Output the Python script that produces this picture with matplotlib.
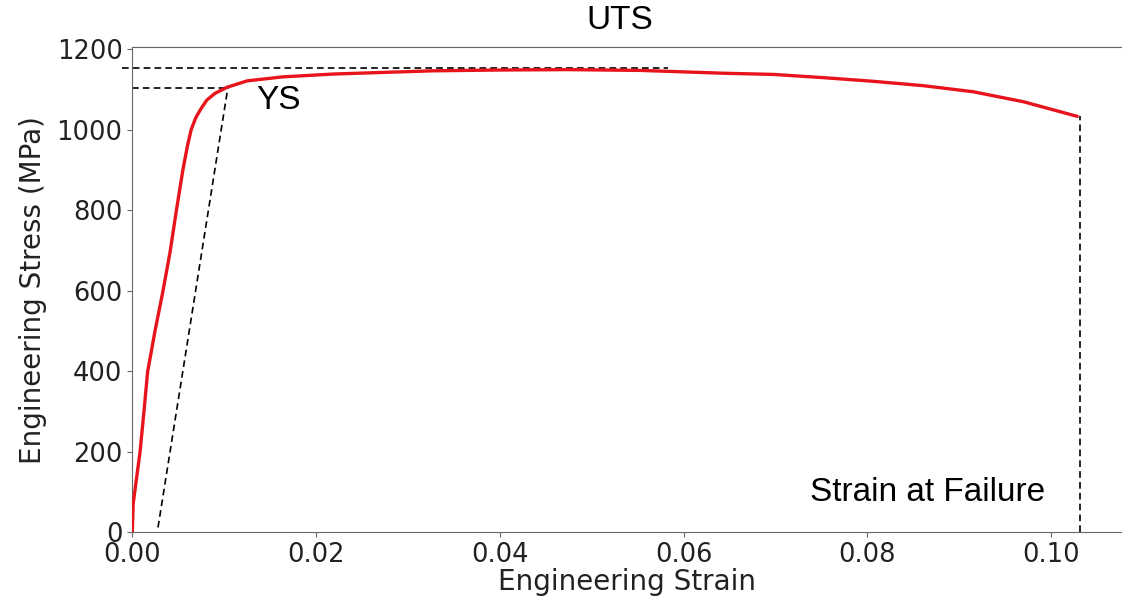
import matplotlib.pyplot as plt
import numpy as np

# stress-strain curve
strain = [0.0, 0.0001, 0.00084, 0.00127, 0.00167, 0.00247, 0.0033, 0.0041, 0.0048,
          0.0055, 0.0060, 0.0064, 0.0069, 0.0074, 0.0081, 0.0090, 0.0103, 0.0125,
          0.0164, 0.0219, 0.0273, 0.0327, 0.0400, 0.0473, 0.0553, 0.0643, 0.0698,
          0.0752, 0.0806, 0.0861, 0.0915, 0.0970, 0.1028]
stress = [0, 72, 199, 300, 399, 500, 595, 695, 800,
          900, 960, 1000, 1030, 1050, 1074, 1091, 1106, 1122,
          1132, 1139, 1143, 1147, 1149, 1150, 1148, 1141, 1138,
          1130, 1121, 1110, 1095, 1070, 1034]

uts = 1154
ys = 1105
ys_strain = 0.0104
offset_strain = 0.0028
offset_stress = 12
failure_strain = 0.1031
failure_stress = 1034

fig = plt.figure(figsize=(11.22, 5.98), dpi=100)
ax = fig.add_axes([0.1179, 0.1099, 0.8821, 0.8107])

ax.plot(strain, stress, color='#e8141c', linewidth=2.4, zorder=3)

dash = (0, (4, 2.5))
ax.plot([-0.0011, 0.0583], [uts, uts], color='black', lw=1.2, linestyle=dash, clip_on=False)
ax.plot([0, ys_strain], [ys, ys], color='black', lw=1.2, linestyle=dash)
ax.plot([offset_strain, ys_strain], [offset_stress, ys], color='black', lw=1.2, linestyle=dash)
ax.plot([failure_strain, failure_strain], [0, failure_stress], color='black', lw=1.2, linestyle=dash)

ax.text(0.0531, 1271, 'UTS', fontsize=24, family='Liberation Sans', ha='center', va='center', clip_on=False)
ax.text(0.0159, 1074, 'YS', fontsize=24, family='Liberation Sans', ha='center', va='center')
ax.text(0.0865, 100, 'Strain at Failure', fontsize=24, family='Liberation Sans', ha='center', va='center')

ax.set_xlim(0, 0.1077)
ax.set_ylim(0, 1205)
ax.set_xticks(np.arange(0, 0.101, 0.02))
ax.set_yticks(np.arange(0, 1201, 200))
ax.set_xticklabels(['0.00', '0.02', '0.04', '0.06', '0.08', '0.10'])

ax.spines['right'].set_visible(False)
for s in ['left', 'bottom', 'top']:
    ax.spines[s].set_color('#666666')
ax.tick_params(colors='#666666', labelcolor='#222222', labelsize=18.5)

ax.set_xlabel('Engineering Strain', fontsize=20, color='#222222', labelpad=0)
ax.set_ylabel('Engineering Stress (MPa)', fontsize=20, color='#222222', labelpad=7)

fig.savefig('out.png', dpi=100)
